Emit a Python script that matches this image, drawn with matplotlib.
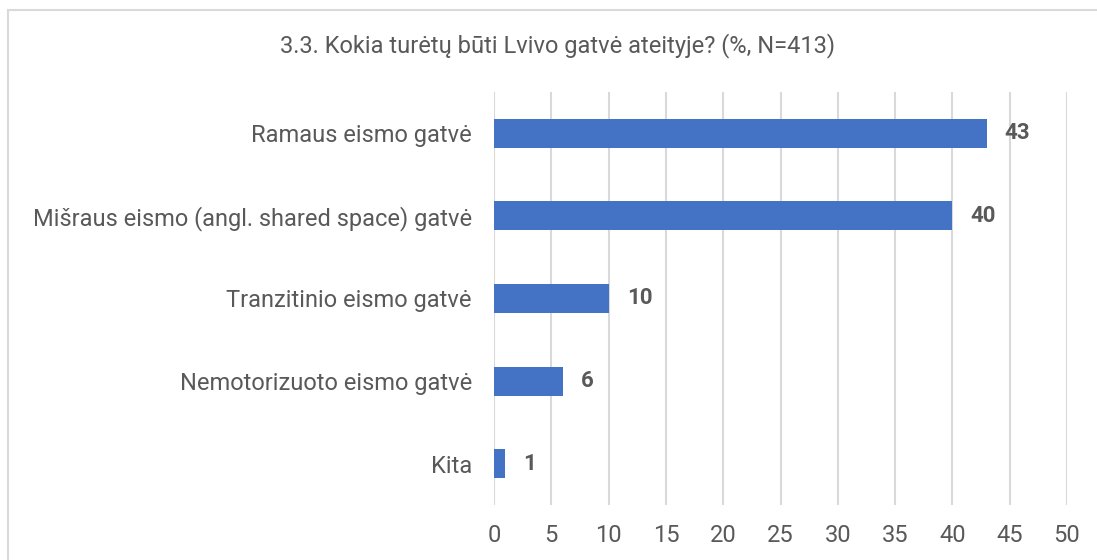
import matplotlib.pyplot as plt
from matplotlib.patches import Rectangle

# survey answers (%), N=413
categories = ['Ramaus eismo gatvė',
              'Mišraus eismo (angl. shared space) gatvė',
              'Tranzitinio eismo gatvė',
              'Nemotorizuoto eismo gatvė',
              'Kita']
values = [43, 40, 10, 6, 1]
ticks = list(range(0, 55, 5))

plt.rcParams['font.family'] = ['Roboto', 'DejaVu Sans']
text_col = '#595959'

fig = plt.figure(figsize=(10.97, 5.6), dpi=100)
ax = fig.add_axes([494/1097, 55/560, 573/1097, 413/560])

pos = list(range(len(categories)))
ax.barh(pos, values, height=0.35, color='#4472C4', zorder=3)
for p, v in zip(pos, values):
    ax.annotate(str(v), (v, p), xytext=(13, 0), textcoords='offset points',
                va='center', ha='left', fontsize=16, fontweight='bold', color=text_col)

ax.set_ylim(len(categories) - 0.5, -0.5)
ax.set_xlim(0, 50)
ax.set_xticks(ticks)
ax.set_yticks(pos)
ax.set_yticklabels(categories)
ax.tick_params(axis='both', length=0, labelsize=17, labelcolor=text_col)
ax.tick_params(axis='x', pad=14)
ax.tick_params(axis='y', pad=16)
ax.grid(axis='x', color='#d9d9d9', linewidth=1.5, zorder=0)
for s in ax.spines.values():
    s.set_visible(False)

fig.text(558/1097, 1 - 46/560, '3.3. Kokia turėtų būti Lvivo gatvė ateityje? (%, N=413)',
         ha='center', va='center', fontsize=17, color=text_col)

fig.patches.append(Rectangle((8/1097, -0.1), 1.2, 1.1 - 10/560, transform=fig.transFigure,
                             fill=False, edgecolor='#d9d9d9', linewidth=1.5))

fig.savefig('out.png', dpi=100)
